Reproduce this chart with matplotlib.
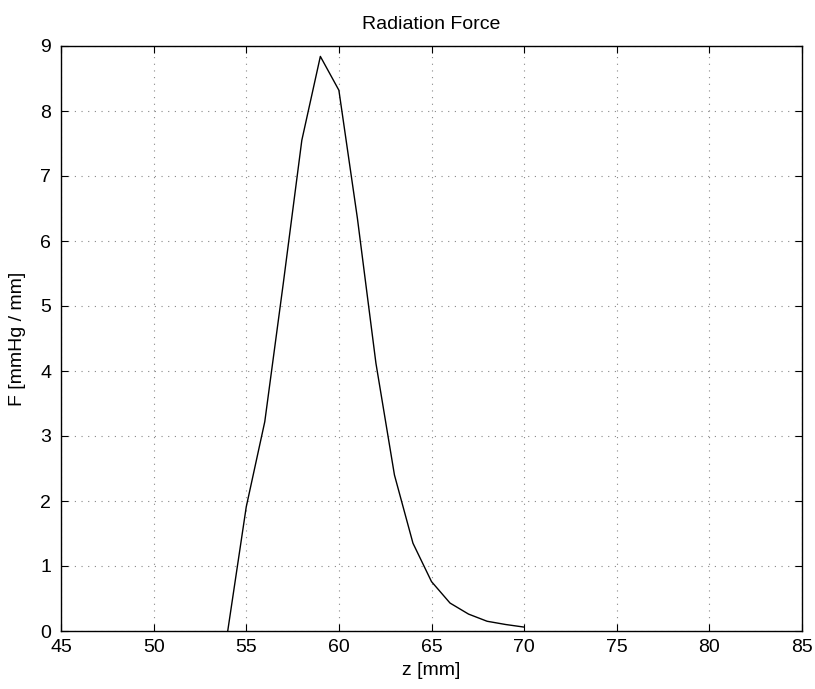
import matplotlib
matplotlib.use("Agg")
import matplotlib.pyplot as plt

# radiation force along the axis
z = [54, 55, 56, 57, 58, 59, 60, 61, 62, 63, 64, 65, 66, 67, 68, 69, 70]
force = [0.0, 1.91, 3.22, 5.35, 7.55, 8.84, 8.32, 6.35, 4.12, 2.40, 1.35,
         0.76, 0.43, 0.26, 0.15, 0.10, 0.06]
xticks = [45, 50, 55, 60, 65, 70, 75, 80, 85]
yticks = [0, 1, 2, 3, 4, 5, 6, 7, 8, 9]

plt.rcParams['font.family'] = ['Liberation Sans', 'DejaVu Sans']

fig = plt.figure(figsize=(8.15, 6.89), dpi=100)
ax = fig.add_axes([61 / 815, 1 - 631 / 689, 741 / 815, 585 / 689])

ax.plot(z, force, color='black', linewidth=1.0)

ax.set_xlim(45, 85)
ax.set_ylim(0, 9)
ax.set_xticks(xticks)
ax.set_yticks(yticks)
ax.tick_params(direction='in', top=True, right=True, labelsize=14, length=5, width=0.8)
ax.tick_params(axis='x', pad=6)
ax.tick_params(axis='y', pad=7)
ax.grid(True, linestyle=(0, (1, 5)), color='#888888', linewidth=0.8)
for s in ax.spines.values():
    s.set_linewidth(1.0)

ax.set_xlabel("z [mm]", fontsize=14, labelpad=4)
ax.set_ylabel("F [mmHg / mm]", fontsize=14, labelpad=10)
ax.set_title("Radiation Force", fontsize=14, pad=12)

fig.savefig("out.png", dpi=100)
